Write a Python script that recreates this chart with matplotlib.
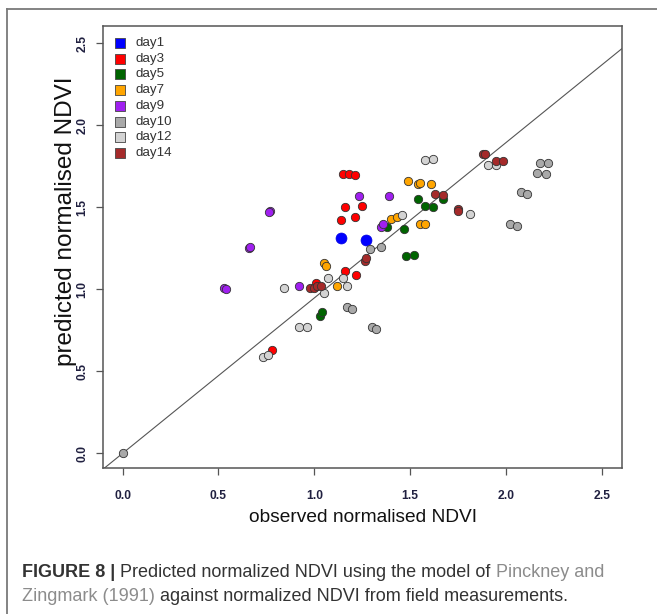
import matplotlib
matplotlib.use("Agg")
import matplotlib.pyplot as plt
from matplotlib.lines import Line2D

# ---------------- data ----------------
days = ["day1", "day3", "day5", "day7", "day9", "day10", "day12", "day14"]
day_colors = ["#0000ff", "#ff0000", "#006400", "#ffa500", "#a020f0", "#a9a9a9", "#d3d3d3", "#a52a2a"]

day1_x = [1.14, 1.27]
day1_y = [1.31, 1.30]
day3_x = [1.15, 1.18, 1.21, 1.16, 1.25, 1.14, 1.21, 1.16, 1.22, 1.01, 0.78]
day3_y = [1.70, 1.70, 1.695, 1.50, 1.51, 1.42, 1.44, 1.11, 1.09, 1.04, 0.63]
day5_x = [1.54, 1.58, 1.62, 1.67, 1.47, 1.48, 1.52, 1.38, 1.03, 1.04]
day5_y = [1.55, 1.51, 1.50, 1.55, 1.37, 1.20, 1.21, 1.38, 0.84, 0.86]
day7_x = [1.49, 1.54, 1.55, 1.61, 1.40, 1.43, 1.55, 1.58, 1.05, 1.06, 1.12]
day7_y = [1.66, 1.64, 1.65, 1.64, 1.43, 1.44, 1.40, 1.40, 1.16, 1.14, 1.02]
day9_x = [0.77, 0.765, 0.66, 0.665, 0.53, 0.54, 0.92, 1.235, 1.39, 1.35, 1.36]
day9_y = [1.48, 1.468, 1.25, 1.26, 1.01, 1.00, 1.02, 1.57, 1.57, 1.38, 1.40]
day10_x = [2.18, 2.22, 2.16, 2.21, 2.08, 2.11, 2.02, 2.06, 1.29, 1.35, 1.17, 1.195, 1.30, 1.32, 0.0]
day10_y = [1.77, 1.77, 1.71, 1.705, 1.595, 1.58, 1.395, 1.385, 1.245, 1.26, 0.89, 0.88, 0.77, 0.755, 0.0]
day12_x = [1.58, 1.62, 1.46, 1.07, 1.15, 1.17, 1.05, 0.92, 0.96, 0.84, 1.905, 1.95, 1.81, 0.73, 0.76]
day12_y = [1.79, 1.795, 1.45, 1.07, 1.07, 1.02, 0.98, 0.77, 0.77, 1.01, 1.755, 1.76, 1.46, 0.59, 0.60]
day14_x = [1.88, 1.89, 1.95, 1.985, 1.75, 1.75, 1.63, 1.67, 1.265, 1.27, 0.975, 1.0, 1.015, 1.035]
day14_y = [1.825, 1.825, 1.785, 1.78, 1.49, 1.48, 1.58, 1.575, 1.17, 1.19, 1.005, 1.01, 1.02, 1.02]

series_x = [day1_x, day3_x, day5_x, day7_x, day9_x, day10_x, day12_x, day14_x]
series_y = [day1_y, day3_y, day5_y, day7_y, day9_y, day10_y, day12_y, day14_y]

line_slope = 0.947
line_intercept = 0.0

tick_values = [0.0, 0.5, 1.0, 1.5, 2.0, 2.5]
tick_labels = ["0.0", "0.5", "1.0", "1.5", "2.0", "2.5"]

xlabel = "observed normalised NDVI"
ylabel = "predicted normalised NDVI"

caption_line1 = [("FIGURE 8 | ", "bold", "#333333"),
                 ("Predicted normalized NDVI using the model of ", "normal", "#333333"),
                 ("Pinckney and", "normal", "#8c8c8c")]
caption_line2 = [("Zingmark (1991)", "normal", "#8c8c8c"),
                 (" against normalized NDVI from field measurements.", "normal", "#333333")]

# ---------------- figure ----------------
W, H = 657, 614
plt.rcParams["font.family"] = ["Liberation Sans", "DejaVu Sans"]
fig = plt.figure(figsize=(W / 100, H / 100), dpi=100)
fig.patch.set_facecolor("white")

# outer frame (left and top edges visible)
fig.add_artist(Line2D([7 / W, 7 / W], [0, 1 - 9 / H], color="#7a7a7a", lw=1.3))
fig.add_artist(Line2D([7 / W, 1], [1 - 9 / H, 1 - 9 / H], color="#7a7a7a", lw=1.3))

L, R, T, B = 103.3, 621.7, 26.0, 468.3
ax = fig.add_axes([L / W, 1 - B / H, (R - L) / W, (B - T) / H])
ax.set_xlim(-0.101, 2.604)
ax.set_ylim(-0.0915, 2.605)
for s in ax.spines.values():
    s.set_color("#555555")
    s.set_linewidth(1.1)

ax.axline((0, line_intercept), slope=line_slope, color="#555555", lw=0.8, zorder=1)

for i, (xs, ys) in enumerate(zip(series_x, series_y)):
    if days[i] == "day1":
        ax.scatter(xs, ys, s=62, color=day_colors[i], edgecolors="#0000dd",
                   linewidths=0.5, zorder=3)
    else:
        ax.scatter(xs, ys, s=36, color=day_colors[i], edgecolors="#333333",
                   linewidths=0.6, zorder=3)

# legend (squares)
for i, (d, c) in enumerate(zip(days, day_colors)):
    py = 42.8 + 15.76 * i
    ya = (B - py) / (B - T)
    ax.scatter([0.0316], [ya], marker="s", s=48, color=c, edgecolors="#444444",
               linewidths=0.6, transform=ax.transAxes, zorder=4, clip_on=False)
    ax.text(0.063, ya, d, transform=ax.transAxes, fontsize=9.6, color="#333333",
            va="center", ha="left")

ax.set_xticks(tick_values)
ax.set_xticklabels(tick_labels)
ax.set_yticks(tick_values)
ax.set_yticklabels(tick_labels, rotation=90, va="center")
ax.tick_params(axis="both", length=5, width=0.9, color="#555555",
               labelsize=8.7, labelcolor="#202040")
ax.tick_params(axis="x", pad=10.5)
ax.tick_params(axis="y", pad=5.5)
for lab in ax.get_xticklabels() + ax.get_yticklabels():
    lab.set_fontweight("bold")

ax.set_xlabel(xlabel, fontsize=13.8, color="#111111", va="center")
ax.xaxis.set_label_coords(0.5, (B - 517) / (B - T))
ax.set_ylabel(ylabel, fontsize=17.5, color="#111111", va="center")
ax.yaxis.set_label_coords((66 - L) / (R - L), (B - 221) / (B - T))

# caption with mixed styles
fig.canvas.draw()
renderer = fig.canvas.get_renderer()
cap_size = 13.0
for line, base_y in ((caption_line1, 577), (caption_line2, 601)):
    x = 22.0
    for txt, wt, col in line:
        t = fig.text(x / W, 1 - base_y / H, txt, fontsize=cap_size, fontweight=wt,
                     color=col, ha="left", va="baseline")
        bb = t.get_window_extent(renderer=renderer)
        x += bb.width

fig.savefig("out.png", dpi=100, facecolor="white")
